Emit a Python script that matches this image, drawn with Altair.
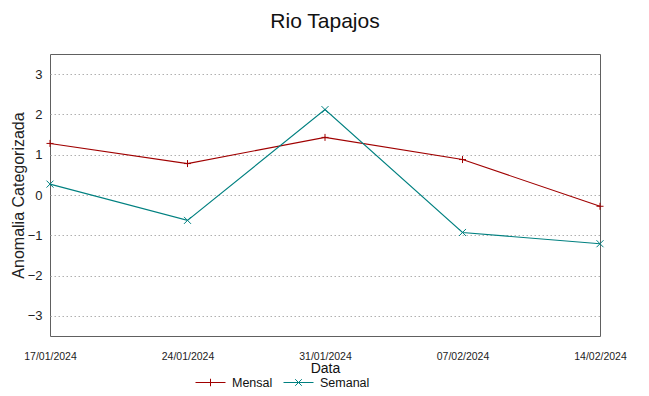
import altair as alt
import pandas as pd

dates = ["17/01/2024", "24/01/2024", "31/01/2024", "07/02/2024", "14/02/2024"]
mensal = [1.28, 0.78, 1.43, 0.88, -0.28]
semanal = [0.27, -0.63, 2.12, -0.93, -1.21]
series = ["Mensal", "Semanal"]
colors = ["#a00000", "#008080"]
y_ticks = [-3, -2, -1, 0, 1, 2, 3]

df = pd.DataFrame({
    "Data": dates * 2,
    "valor": mensal + semanal,
    "serie": [series[0]] * len(mensal) + [series[1]] * len(semanal),
})

SANS = "Liberation Sans, Arial, sans-serif"

x = alt.X(
    "Data:O", sort=dates,
    scale=alt.Scale(type="point", padding=0),
    axis=alt.Axis(title="Data", labelAngle=0, ticks=False, domain=False,
                  labelFont=SANS, labelFontSize=10.5, labelColor="#222",
                  labelPadding=15, titleFont=SANS, titleFontSize=14,
                  titleFontWeight="normal", titlePadding=0, titleColor="#111"),
)
y = alt.Y(
    "valor:Q",
    scale=alt.Scale(domain=[-3.5, 3.5], nice=False, zero=False),
    axis=alt.Axis(values=y_ticks, grid=True, gridDash=[1.5, 2.5], gridColor="#b0b0b0",
                  gridWidth=1, domain=False, ticks=False,
                  labelFont=SANS, labelFontSize=13, labelColor="#222", labelPadding=8,
                  title="Anomalia Categorizada", titleFont=SANS, titleFontSize=16,
                  titleFontWeight="normal", titleColor="#222", titlePadding=1),
)
color = alt.Color("serie:N", scale=alt.Scale(domain=series, range=colors))

lines = alt.Chart(df).mark_line(strokeWidth=1.1).encode(
    x=x, y=y, color=color.legend(None), detail="serie:N")

markers = alt.Chart(df).mark_point(filled=False, size=49, strokeWidth=1, opacity=1).encode(
    x=x, y=y, color=color.legend(None),
    shape=alt.Shape("serie:N", scale=alt.Scale(
        domain=series,
        range=["M-1,0H1M0,-1V1", "M-1,-1L1,1M-1,1L1,-1"]), legend=None),
)

leg = alt.Legend(title=None, orient="none", legendX=145, legendY=313, direction="horizontal",
                 labelFont=SANS, labelFontSize=12.5, labelColor="#111", labelOffset=6,
                 columnPadding=8, symbolOpacity=1, symbolStrokeWidth=1,
                 symbolFillColor="transparent", symbolSize=900)

legend_layer = alt.Chart(df).mark_point(filled=False, size=900, strokeWidth=1, opacity=0).encode(
    x=x, y=y,
    color=alt.Color("serie:N", scale=alt.Scale(domain=series, range=colors), legend=leg),
    shape=alt.Shape("serie:N", scale=alt.Scale(
        domain=series,
        range=["M-1,0H1M0,-0.25V0.25",
               "M-1,0H1M-0.22,-0.22L0.22,0.22M-0.22,0.22L0.22,-0.22"]),
        legend=leg),
)

chart = alt.layer(lines, markers, legend_layer).resolve_scale(
    shape="independent", color="independent"
).properties(
    width=550, height=282,
    title=alt.Title("Rio Tapajos", font=SANS, fontSize=21, fontWeight="normal",
                    color="#111", anchor="middle", offset=22),
    autosize=alt.AutoSizeParams(type="none"),
    padding={"left": 42, "top": 46, "right": 40, "bottom": 52},
    view=alt.ViewBackground(stroke="#606060", strokeWidth=1),
).configure_view(
    stroke="#606060", strokeWidth=1
).configure(background="white")

chart.save("out.html", embed_options={"renderer": "svg", "actions": False})
